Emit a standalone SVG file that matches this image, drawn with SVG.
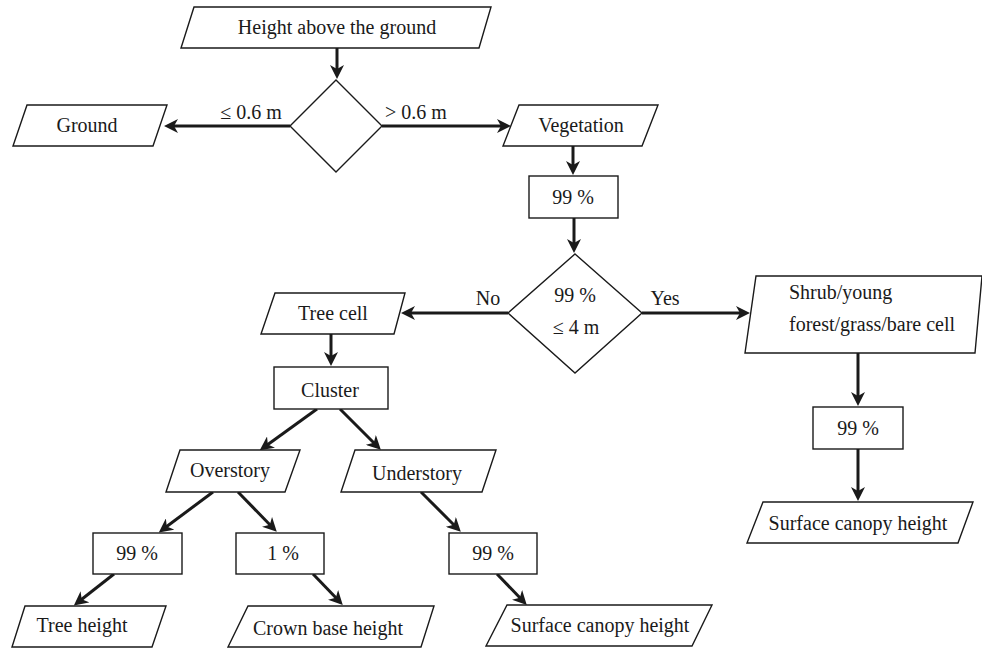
<svg xmlns="http://www.w3.org/2000/svg" width="982" height="649" viewBox="0 0 982 649">
<defs>
<style>
.n{fill:#fff;stroke:#1a1a1a;stroke-width:1.4;stroke-linejoin:miter}
.t{font-family:"Liberation Serif","Times New Roman",serif;font-size:20px;fill:#1a1a1a;text-anchor:middle}
.l{text-anchor:start}
.c{fill:none;stroke:#1a1a1a;stroke-width:3}
</style>
<marker id="ah" viewBox="0 0 14 14" markerWidth="14" markerHeight="14" refX="10" refY="7" orient="auto" markerUnits="userSpaceOnUse">
<path d="M0,0 L14,7 L0,14 L4,7 z" fill="#1a1a1a"/>
</marker>
</defs>
<rect width="982" height="649" fill="#fff"/>
<g id="connectors">
<path class="c" marker-end="url(#ah)" d="M337,48 L337,75"/>
<path class="c" marker-end="url(#ah)" d="M290,126 L168,126"/>
<path class="c" marker-end="url(#ah)" d="M382,126 L507,126"/>
<path class="c" marker-end="url(#ah)" d="M573,146 L573,171"/>
<path class="c" marker-end="url(#ah)" d="M574,218 L574,249"/>
<path class="c" marker-end="url(#ah)" d="M508,313 L405,313"/>
<path class="c" marker-end="url(#ah)" d="M642,313 L746,313"/>
<path class="c" marker-end="url(#ah)" d="M858,353 L858,402"/>
<path class="c" marker-end="url(#ah)" d="M858,449 L858,497"/>
<path class="c" marker-end="url(#ah)" d="M331,334 L331,362"/>
<path class="c" marker-end="url(#ah)" d="M317,409 L263,448"/>
<path class="c" marker-end="url(#ah)" d="M340,409 L378,447"/>
<path class="c" marker-end="url(#ah)" d="M213,492 L162,530"/>
<path class="c" marker-end="url(#ah)" d="M238,492 L274,529"/>
<path class="c" marker-end="url(#ah)" d="M421,492 L458,529"/>
<path class="c" marker-end="url(#ah)" d="M114,574 L77,603"/>
<path class="c" marker-end="url(#ah)" d="M313,574 L340,602"/>
<path class="c" marker-end="url(#ah)" d="M497,574 L524,602"/>
<text class="t" x="251" y="119">≤ 0.6 m</text>
<text class="t" x="416" y="119">&gt; 0.6 m</text>
<text class="t" x="488" y="305">No</text>
<text class="t" x="665" y="305">Yes</text>
</g>
<g id="height">
<polygon class="n" points="194,7 491,7 479,48 181,48"/>
<text class="t" x="337" y="34">Height above the ground</text>
</g>
<g id="decision1">
<polygon class="n" points="336,80 382,126 336,172 290,126"/>
</g>
<g id="ground">
<polygon class="n" points="27,105 167,105 153,146 13,146"/>
<text class="t" x="87" y="132">Ground</text>
</g>
<g id="vegetation">
<polygon class="n" points="519,105 658,105 642,146 503,146"/>
<text class="t" x="581" y="132">Vegetation</text>
</g>
<g id="p99a">
<rect class="n" x="529" y="176" width="89" height="42"/>
<text class="t" x="573" y="204">99 %</text>
</g>
<g id="decision2">
<polygon class="n" points="575,254 642,313 575,373 508,313"/>
<text class="t" x="575" y="302">99 %</text>
<text class="t" x="576" y="334">≤ 4 m</text>
</g>
<g id="treecell">
<polygon class="n" points="275,293 405,293 394,334 261,334"/>
<text class="t" x="333" y="320">Tree cell</text>
</g>
<g id="shrub">
<polygon class="n" points="756,276 982,276 975,353 745,353"/>
<text class="t l" x="789" y="299">Shrub/young</text>
<text class="t l" x="789" y="331">forest/grass/bare cell</text>
</g>
<g id="p99b">
<rect class="n" x="813" y="407" width="90" height="42"/>
<text class="t" x="858" y="435">99 %</text>
</g>
<g id="surface1">
<polygon class="n" points="763,502 973,502 958,543 747,543"/>
<text class="t" x="858" y="530">Surface canopy height</text>
</g>
<g id="cluster">
<rect class="n" x="274" y="367" width="114" height="42"/>
<text class="t" x="330" y="397">Cluster</text>
</g>
<g id="overstory">
<polygon class="n" points="180,450 300,450 285,492 166,492"/>
<text class="t" x="230" y="477">Overstory</text>
</g>
<g id="understory">
<polygon class="n" points="355,450 496,450 482,492 341,492"/>
<text class="t" x="417" y="480">Understory</text>
</g>
<g id="p99c">
<rect class="n" x="93" y="533" width="89" height="41"/>
<text class="t" x="137" y="560">99 %</text>
</g>
<g id="p1">
<rect class="n" x="236" y="533" width="88" height="41"/>
<text class="t" x="283" y="560">1 %</text>
</g>
<g id="p99d">
<rect class="n" x="449" y="533" width="88" height="41"/>
<text class="t" x="493" y="560">99 %</text>
</g>
<g id="treeheight">
<polygon class="n" points="25,606 166,606 152,647 12,647"/>
<text class="t" x="82" y="632">Tree height</text>
</g>
<g id="crownbase">
<polygon class="n" points="248,606 434,606 421,647 228,647"/>
<text class="t" x="328" y="635">Crown base height</text>
</g>
<g id="surface2">
<polygon class="n" points="507,605 712,605 692,646 486,646"/>
<text class="t" x="600" y="632">Surface canopy height</text>
</g>
</svg>
